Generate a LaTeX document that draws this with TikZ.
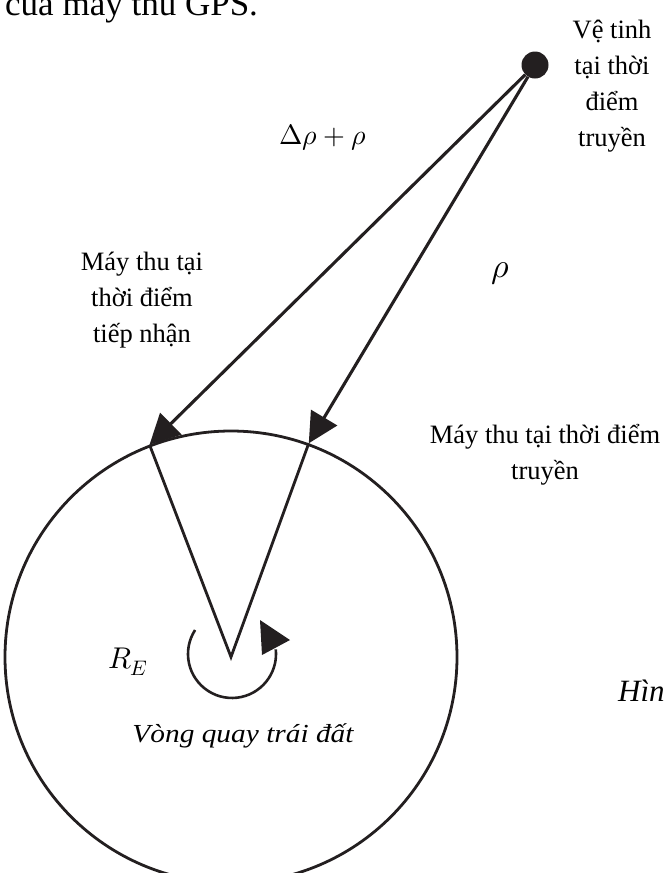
\documentclass[tikz,border=0pt]{standalone}
\usepackage{fontspec}
\usepackage{unicode-math}
\setmainfont{Liberation Serif}
\setmathfont{Latin Modern Math}
\usetikzlibrary{arrows.meta}
\definecolor{ink}{HTML}{231F20}
\begin{document}
\begin{tikzpicture}[x=1pt,y=-1pt,
  heavy/.style={draw=ink, line width=3.1pt},
  tip/.style={-{Triangle[length=30pt,width=30pt]}},
  lbl/.style={font=\fontsize{26.5}{36}\selectfont, align=center, inner sep=0pt},
  mlbl/.style={inner sep=0pt}]
\useasboundingbox (0,0) rectangle (665,873);
% Earth
\coordinate (ctr) at (231,657);
\node[circle, draw=ink, line width=2.8pt, minimum size=452pt, inner sep=0pt] (earth) at (ctr) {};
% satellite
\node[circle, fill=ink, minimum size=27pt, inner sep=0pt] (sat) at (535,65) {};
% signal paths
\draw[heavy, tip] (sat) -- (earth.111.8);
\draw[heavy, tip] (sat) -- (earth.70);
% radii
\draw[heavy, line width=2.8pt] (earth.111.8) -- (ctr) -- (earth.70);
% rotation
\coordinate (rotstart) at (195.1,630);
\draw[draw=ink, line width=2.6pt] (rotstart) arc[start angle=213, end angle=-6, radius=44];
\fill[ink] (260,620) -- (290,640) -- (262,655) -- cycle;
% texts
\node[font=\fontsize{35}{40}\selectfont, anchor=base west, inner sep=0pt] (top) at (5,15) {của máy thu GPS.};
\node[lbl] (sattxt) at (612,86) {Vệ tinh\\tại thời\\điểm\\truyền};
\node[lbl] (rx1) at (142,300) {Máy thu tại\\thời điểm\\tiếp nhận};
\node[lbl] (rx2) at (545,455) {Máy thu tại thời điểm\\truyền};
\node[mlbl, font=\fontsize{28}{32}\selectfont] (drho) at (323,137) {$\Delta\rho+\rho$};
\node[mlbl, font=\fontsize{34}{38}\selectfont] (rho) at (501,274) {$\rho$};
\node[mlbl, font=\fontsize{30}{34}\selectfont] (re) at (128,662) {$R_E$};
\node[font=\itshape\fontsize{26}{30}\selectfont, inner sep=0pt] (rot) at (243,736) {\scalebox{1.13}[1]{Vòng quay trái đất}};
\node[font=\itshape\fontsize{31}{36}\selectfont, anchor=base west, inner sep=0pt] (fig) at (618,701) {Hìn};
\end{tikzpicture}
\end{document}
